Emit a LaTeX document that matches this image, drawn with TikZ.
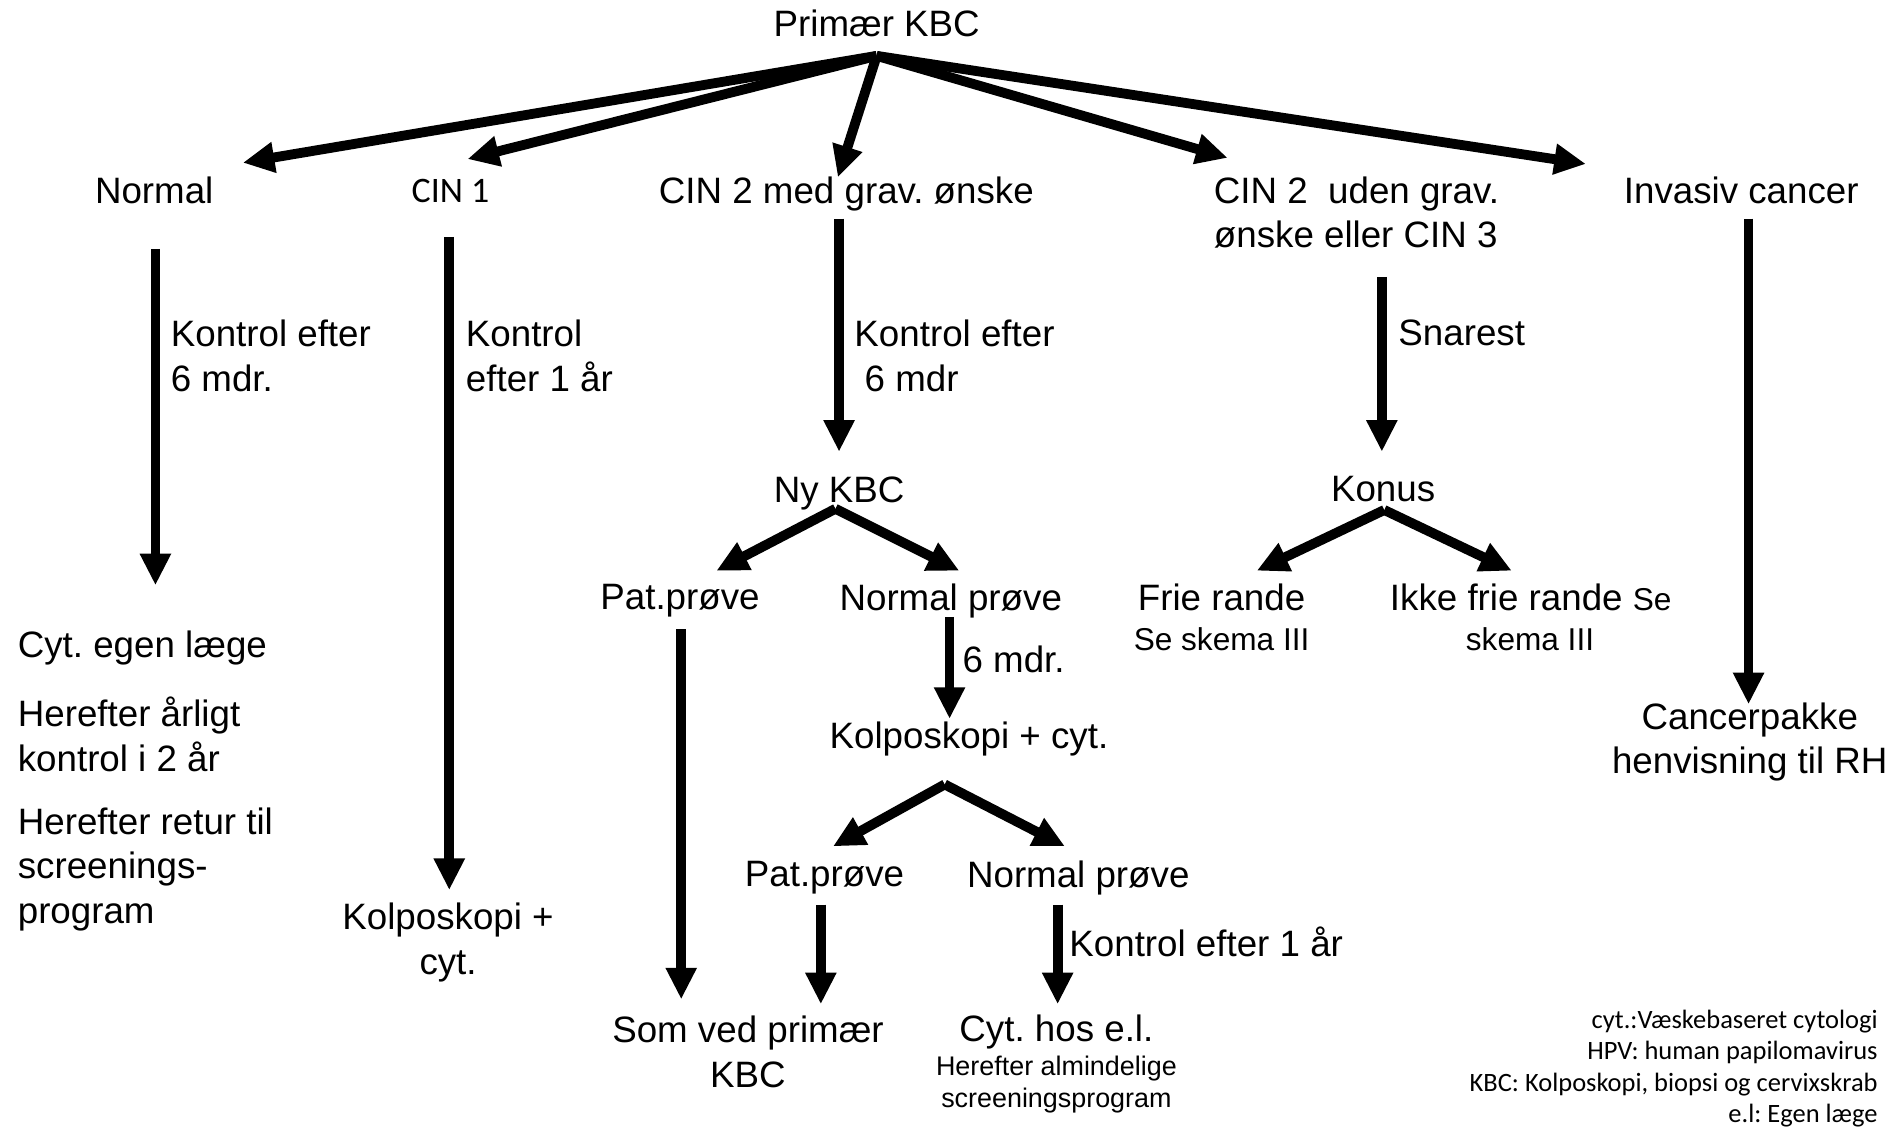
\documentclass[tikz,border=0pt]{standalone}
\usepackage{fontspec}
\setmainfont{Liberation Sans}
\newfontfamily\notefont{Carlito}
\usetikzlibrary{arrows.meta}
\frenchspacing

\tikzset{
  arr/.style={line width=2.3pt, -{Triangle[length=0.26cm,width=0.24cm]}},
  txt/.style={font=\fontsize{8.6}{10.5}\selectfont, inner sep=0pt},
  smalltxt/.style={font=\fontsize{6.3}{7.4}\selectfont, inner sep=0pt},
  skematxt/.style={font=\fontsize{7.4}{8.4}\selectfont, inner sep=0pt},
  notetxt/.style={font=\notefont\fontsize{6.2}{7.3}\selectfont, inner sep=0pt, align=right, anchor=east}
}

\begin{document}
\begin{tikzpicture}[x=0.01cm, y=-0.01cm, every node/.style={txt}]
  \useasboundingbox (0,0) rectangle (1568,930);

  % Primaer KBC and the five results
  \node (primaer) at (722,19) {Primær KBC};
  \coordinate (primaer-split) at (722,46);
  \node (normal) at (127,157) {Normal};
  \node[font=\notefont\fontsize{8.4}{9}\selectfont] (cin1) at (371,157) {CIN 1};
  \node (cin2med) at (697,160) {CIN 2 med grav. ønske};
  \node[align=left, anchor=west] (cin2uden) at (999,175) {CIN 2 \ uden grav.\\ønske eller CIN 3};
  \node (invasiv) at (1434,157) {Invasiv cancer};

  \coordinate (normal-in) at (200,134);
  \coordinate (cin1-in) at (385,131);
  \coordinate (cin2med-in) at (690,146);
  \coordinate (cin2uden-in) at (1011,130);
  \coordinate (invasiv-in) at (1306,135);
  \draw[arr] (primaer-split) -- (normal-in);
  \draw[arr] (primaer-split) -- (cin1-in);
  \draw[arr] (primaer-split) -- (cin2med-in);
  \draw[arr] (primaer-split) -- (cin2uden-in);
  \draw[arr] (primaer-split) -- (invasiv-in);

  % Normal
  \coordinate (normal-out) at (128,205);
  \coordinate (normal-end) at (128,482);
  \draw[arr] (normal-out) -- (normal-end);
  \node[align=left, anchor=west] (normal-lbl) at (140,293) {Kontrol efter\\6 mdr.};
  \node[anchor=west] (egen) at (14,534) {Cyt. egen læge};
  \node[align=left, anchor=west] (aarligt) at (14,605) {Herefter årligt\\kontrol i 2 år};
  \node[align=left, anchor=west] (retur) at (14,716) {Herefter retur til\\screenings-\\program};

  % CIN 1
  \coordinate (cin1-out) at (370,195);
  \coordinate (cin1-end) at (370,733);
  \draw[arr] (cin1-out) -- (cin1-end);
  \node[align=left, anchor=west] (cin1-lbl) at (383,293) {Kontrol\\efter 1 år};
  \node[align=center] (kolpo1) at (369,776) {Kolposkopi +\\cyt.};

  % CIN 2 med grav. oenske
  \coordinate (cin2med-out) at (691,180);
  \coordinate (nykbc-in) at (691,372);
  \draw[arr] (cin2med-out) -- (nykbc-in);
  \node[align=left, anchor=west] (cin2med-lbl) at (703,293) {Kontrol efter\\\ 6 mdr};
  \node (nykbc) at (691,406) {Ny KBC};
  \coordinate (nykbc-split) at (688,419);
  \node (pat1) at (560,495) {Pat.prøve};
  \node (normpr1) at (783,495) {Normal prøve};
  \coordinate (pat1-in) at (590,470);
  \coordinate (normpr1-in) at (790,470);
  \draw[arr] (nykbc-split) -- (pat1-in);
  \draw[arr] (nykbc-split) -- (normpr1-in);

  \coordinate (pat1-out) at (561,518);
  \coordinate (pat1-end) at (561,823);
  \draw[arr] (pat1-out) -- (pat1-end);

  \coordinate (normpr1-out) at (782,508);
  \coordinate (kolpo2-in) at (782,592);
  \draw[arr] (normpr1-out) -- (kolpo2-in);
  \node[anchor=west] (normpr1-lbl) at (792,543) {6 mdr.};
  \node (kolpo2) at (798,609) {Kolposkopi + cyt.};
  \coordinate (kolpo2-split) at (778,646);
  \node (pat2) at (679,723) {Pat.prøve};
  \node (normpr2) at (888,723) {Normal prøve};
  \coordinate (pat2-in) at (686,697);
  \coordinate (normpr2-in) at (877,697);
  \draw[arr] (kolpo2-split) -- (pat2-in);
  \draw[arr] (kolpo2-split) -- (normpr2-in);

  \coordinate (pat2-out) at (676,745);
  \coordinate (pat2-end) at (676,827);
  \draw[arr] (pat2-out) -- (pat2-end);
  \coordinate (normpr2-out) at (871,745);
  \coordinate (normpr2-end) at (871,827);
  \draw[arr] (normpr2-out) -- (normpr2-end);
  \node[anchor=west] (normpr2-lbl) at (880,776) {Kontrol efter 1 år};

  \node[align=center] (somved) at (616,866) {Som ved primær\\KBC};
  \node (cythos) at (870,850) {Cyt. hos e.l.};
  \node[smalltxt, align=center] (almind) at (870,893) {Herefter almindelige\\screeningsprogram};

  % CIN 2 uden grav. oenske eller CIN 3
  \coordinate (cin2uden-out) at (1138,228);
  \coordinate (konus-in) at (1138,372);
  \draw[arr] (cin2uden-out) -- (konus-in);
  \node[anchor=west] (cin2uden-lbl) at (1151,274) {Snarest};
  \node (konus) at (1139,403) {Konus};
  \coordinate (konus-split) at (1140,420);
  \node (frie) at (1006,492) {Frie rande};
  \node[skematxt] (frie-se) at (1006,526) {Se skema III};
  \node[anchor=west] (ikkefrie) at (1144,492) {Ikke frie rande {\fontsize{7.4}{8.4}\selectfont Se}};
  \node[skematxt] (ikkefrie-se) at (1260,526) {skema III};
  \coordinate (frie-in) at (1035,470);
  \coordinate (ikkefrie-in) at (1245,470);
  \draw[arr] (konus-split) -- (frie-in);
  \draw[arr] (konus-split) -- (ikkefrie-in);

  % Invasiv cancer
  \coordinate (invasiv-out) at (1440,180);
  \coordinate (invasiv-end) at (1440,580);
  \draw[arr] (invasiv-out) -- (invasiv-end);
  \node[align=center] (cancerpakke) at (1441,611) {Cancerpakke\\henvisning til RH};

  % Forklaring
  \node[notetxt] (noter) at (1547,880) {cyt.:Væskebaseret cytologi\\HPV: human papilomavirus\\KBC: Kolposkopi, biopsi og cervixskrab\\e.l: Egen læge};
\end{tikzpicture}
\end{document}
